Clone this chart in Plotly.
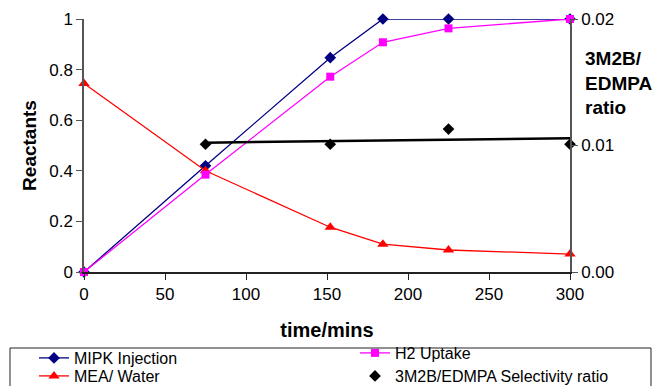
import numpy as np
import plotly.graph_objects as go

# ---- data ----
time_mipk = [0, 75, 152, 184.5, 225, 300]
mipk = [0, 0.42, 0.847, 1.0, 1.0, 1.0]

time_h2 = [0, 75, 152, 184.5, 225, 300]
h2 = [0, 0.385, 0.772, 0.908, 0.963, 1.0]

time_mea = [0, 75, 152, 184.5, 225, 300]
mea = [0.745, 0.40, 0.177, 0.110, 0.087, 0.071]

time_sel = [75, 152, 225, 300]
selectivity = [0.0101, 0.0101, 0.0113, 0.0101]

x_ticks = [0, 50, 100, 150, 200, 250, 300]
y_ticks = [0, 0.2, 0.4, 0.6, 0.8, 1]
y2_ticks = [0, 0.01, 0.02]

# linear trendline of selectivity (as in original spreadsheet chart)
coef = np.polyfit(time_sel, selectivity, 1)
trend_x = [time_sel[0], time_sel[-1]]
trend_y = [float(np.polyval(coef, v)) for v in trend_x]

FONT = "Liberation Sans, Arial, sans-serif"

fig = go.Figure()

fig.add_trace(go.Scatter(
    x=time_mipk, y=mipk, name="MIPK Injection", mode="lines+markers",
    line=dict(color="#000080", width=1.3),
    marker=dict(symbol="diamond", size=9, color="#000080"),
    cliponaxis=False, legend="legend"))
fig.add_trace(go.Scatter(
    x=time_mea, y=mea, name="MEA/ Water", mode="lines+markers",
    line=dict(color="#FF0000", width=1.3),
    marker=dict(symbol="triangle-up", size=10, color="#FF0000"),
    cliponaxis=False, legend="legend2"))
fig.add_trace(go.Scatter(
    x=time_h2, y=h2, name="H2 Uptake", mode="lines+markers",
    line=dict(color="#FF00FF", width=1.3),
    marker=dict(symbol="square", size=8, color="#FF00FF"),
    cliponaxis=False, legend="legend3"))
fig.add_trace(go.Scatter(
    x=trend_x, y=trend_y, mode="lines", showlegend=False, yaxis="y2",
    line=dict(color="black", width=2.5), hoverinfo="skip"))
fig.add_trace(go.Scatter(
    x=time_sel, y=selectivity, name="3M2B/EDMPA Selectivity ratio", mode="markers",
    marker=dict(symbol="diamond", size=9, color="black"), yaxis="y2",
    cliponaxis=False, legend="legend4"))

OFF = 8  # default page body margin
W, H = 661 - OFF, 386 - OFF
L, T = 84 - OFF, 19 - OFF
R = W - (570 - OFF)
B = H - (272 - OFF)
pw = W - L - R
ph = H - T - B

def px_x(p):  # page pixel -> paper
    return (p - OFF - L) / pw

def px_y(p):
    return (H - B - (p - OFF)) / ph

def leg(xp, yp):
    return dict(x=px_x(xp), y=px_y(yp), xanchor="left", yanchor="top",
                bgcolor="rgba(0,0,0,0)", borderwidth=0,
                font=dict(size=16), itemwidth=30)

fig.update_layout(
    width=W, height=H,
    margin=dict(l=L, r=R, t=T, b=B, autoexpand=False),
    paper_bgcolor="white", plot_bgcolor="white",
    font=dict(family=FONT, size=17, color="black"),
    xaxis=dict(range=[0, 300], tickvals=x_ticks, showgrid=False, zeroline=False,
               showline=True, linecolor="#222", linewidth=1.5,
               ticks="outside", ticklen=6, tickcolor="#222",
               title=dict(text="<b>time/mins</b>", font=dict(size=20), standoff=20),
               tickfont=dict(size=17)),
    yaxis=dict(range=[0, 1], tickvals=y_ticks, ticktext=["0", "0.2", "0.4", "0.6", "0.8", "1"],
               showgrid=False, zeroline=False,
               showline=True, linecolor="#555", linewidth=1.5,
               ticks="outside", ticklen=6, tickcolor="#555",
               title=dict(text="<b>Reactants</b>", font=dict(size=19), standoff=8),
               tickfont=dict(size=17)),
    yaxis2=dict(range=[0, 0.02], tickvals=y2_ticks, ticktext=["0.00", "0.01", "0.02"],
                overlaying="y", side="right", showgrid=False, zeroline=False,
                showline=True, linecolor="#555", linewidth=1.5,
                ticks="outside", ticklen=6, tickcolor="#555",
                tickfont=dict(size=17)),
    legend=leg(34, 341),
    legend2=leg(34, 359),
    legend3=leg(355, 336),
    legend4=leg(355, 359),
    shapes=[dict(type="rect", xref="paper", yref="paper",
                 x0=px_x(10), x1=px_x(651), y0=px_y(348), y1=px_y(400),
                 line=dict(color="#222", width=1), fillcolor="rgba(0,0,0,0)")],
    annotations=[dict(text="<b>3M2B/<br>EDMPA<br>ratio</b>", xref="paper", yref="paper",
                      x=px_x(583), y=px_y(83), xanchor="left", yanchor="middle",
                      align="left", showarrow=False, font=dict(size=19))],
)

fig.write_html("out.html")
